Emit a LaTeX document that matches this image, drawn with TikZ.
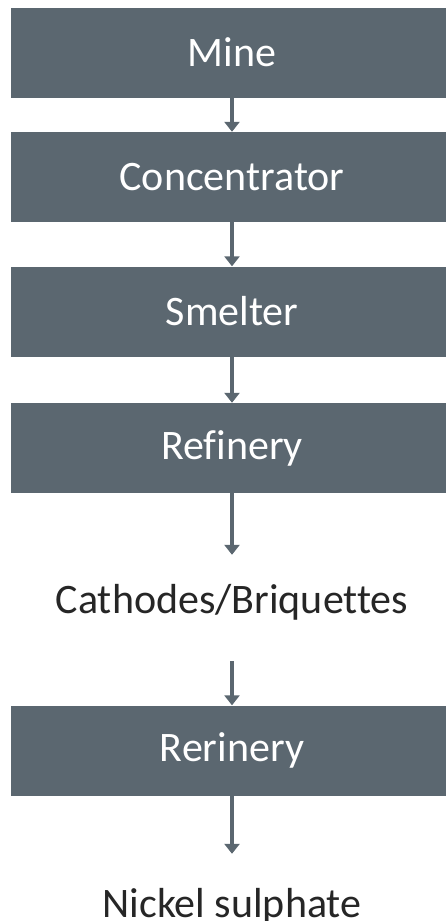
\documentclass[tikz,border=0pt]{standalone}
\usepackage{fontspec}
\setmainfont{Carlito}[Ligatures=CommonOff]
\usetikzlibrary{arrows.meta}
\definecolor{slate}{HTML}{5B6770}
\definecolor{ink}{HTML}{262626}
\begin{document}
\begin{tikzpicture}[x=1pt,y=-1pt,>={Triangle[width=15pt,length=10pt]},
  stage/.style={fill=slate,text=white,minimum width=442pt,minimum height=90pt,inner sep=0pt,font=\fontsize{42}{50}\selectfont},
  product/.style={text=ink,minimum height=94pt,inner sep=0pt,font=\fontsize{42}{50}\selectfont},
  flow/.style={->,draw=slate,fill=slate,line width=4.5pt}]
\useasboundingbox (0,0) rectangle (446,921);
% stages
\node[stage] (mine) at (232,52.5) {Mine};
\node[stage] (conc) at (232,177) {Concentrator};
\node[stage] (smelt) at (232,311.5) {Smelter};
\node[stage] (refin) at (232,448) {Refinery};
\node[product] (cath) at (232,602) {Cathodes/Briquettes};
\node[stage] (rerin) at (232,750.5) {Rerinery};
\node[product,minimum height=104pt] (nisul) at (232,906) {Nickel sulphate};
% arrows
\draw[flow] (mine) -- (conc);
\draw[flow] (conc) -- (smelt);
\draw[flow] (smelt) -- (refin);
\draw[flow] (refin) -- (cath);
\draw[flow,shorten <=12pt] (cath) -- (rerin);
\draw[flow] (rerin) -- (nisul);
\end{tikzpicture}
\end{document}
